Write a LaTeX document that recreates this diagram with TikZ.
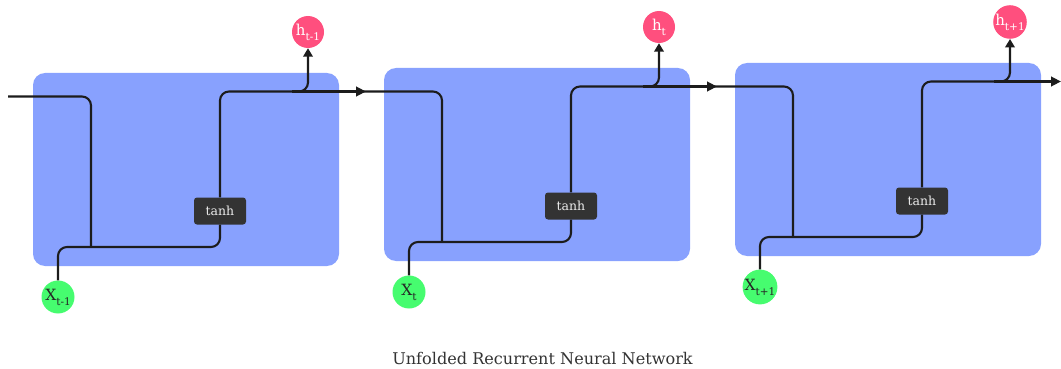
\documentclass[tikz,border=0pt]{standalone}
\usepackage{fontspec}
\setmainfont{DejaVu Serif}
\usetikzlibrary{arrows.meta}

\definecolor{cellfill}{RGB}{136,161,254}
\definecolor{inputfill}{RGB}{70,252,111}
\definecolor{outputfill}{RGB}{255,79,126}
\definecolor{gatefill}{RGB}{51,51,51}
\definecolor{wirecol}{RGB}{28,28,28}

% label with a lowered index, e.g. X_{t-1}
\newcommand\idxlabel[2]{#1\raisebox{-0.33em}{\fontsize{10.5}{10.5}\selectfont #2}}

\tikzset{
  cellbox/.style={fill=cellfill, rounded corners=12pt, minimum width=306pt, minimum height=193pt, inner sep=0pt},
  xnode/.style={circle, fill=inputfill, minimum size=33pt, inner sep=0pt, text=black!85, font=\fontsize{15.5}{15.5}\selectfont},
  hnode/.style={circle, fill=outputfill, minimum size=32pt, inner sep=0pt, text=white, font=\fontsize{15}{15}\selectfont},
  gate/.style={fill=gatefill, rounded corners=3pt, minimum width=52pt, minimum height=27pt, inner sep=0pt, text=white!92!black, font=\fontsize{12.5}{12.5}\selectfont},
  wire/.style={draw=wirecol, line width=2.1pt, rounded corners=9pt},
  bus/.style={draw=wirecol, line width=2.8pt},
  uptip/.style={-{Triangle[length=8.5pt,width=9.5pt]}},
  sidetip/.style={-{Triangle[length=10pt,width=9.5pt]}},
  caption/.style={text=black!80, font=\fontsize{16.1}{16.1}\selectfont}
}

% one unrolled time step of the recurrent cell
\newcommand\rnncell[3]{%
  \begin{scope}[shift={(351*#1,-5*#1)}]
    \node[cellbox] (cell#1) at (186,169.5) {};
    \node[xnode] (x#1) at (58,297) {\idxlabel{X}{#2}};
    \node[gate] (tanh#1) at (220,211) {tanh};
    \node[hnode] (h#1) at (308,32) {\idxlabel{h}{#3}};
    \coordinate (drop#1) at (91,96.5);
    \coordinate (join#1) at (91,247);
    \coordinate (out#1) at (292,91.5);
    \coordinate (tip#1) at (366,91.5);
    \draw[wire] (x#1.north) -- (58,247) -- (220,247) -- (tanh#1.south);
    \draw[wire, uptip] (tanh#1.north) -- (220,91.5) -- (308,91.5) -- (h#1.south);
  \end{scope}}

\begin{document}
\begin{tikzpicture}[x=1pt, y=-1pt]
  \useasboundingbox (0,0) rectangle (1061,369);

  \rnncell{0}{t-1}{t-1}
  \rnncell{1}{t}{t}
  \rnncell{2}{t+1}{t+1}

  % hidden state carried from step to step
  \coordinate (start) at (8,96.5);
  \coordinate (end) at (1061,81.5);
  \draw[wire] (start) -- (drop0) -- (join0);
  \draw[wire] (out0) -- (drop1) -- (join1);
  \draw[bus, sidetip] (out0) -- (tip0);
  \draw[wire] (out1) -- (drop2) -- (join2);
  \draw[bus, sidetip] (out1) -- (tip1);
  \draw[bus, sidetip] (out2) -- (end);

  \node[caption, anchor=base] (title) at (542.5,364) {Unfolded Recurrent Neural Network};
\end{tikzpicture}
\end{document}
